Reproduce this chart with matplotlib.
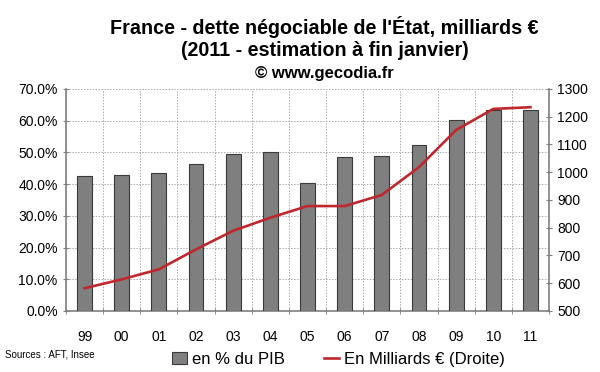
import numpy as np
import matplotlib.pyplot as plt
from matplotlib.ticker import FuncFormatter, MultipleLocator
from matplotlib.patches import Patch
from matplotlib.lines import Line2D

plt.rcParams['font.family'] = ['Liberation Sans', 'DejaVu Sans']

annees = ['99', '00', '01', '02', '03', '04', '05', '06', '07', '08', '09', '10', '11']
pct_pib = [42.6, 42.8, 43.5, 46.3, 49.4, 50.1, 40.4, 48.5, 48.7, 52.3, 60.2, 63.2, 63.3]
milliards = [582, 614, 650, 722, 789, 836, 878, 878, 918, 1018, 1152, 1228, 1234]

fig = plt.figure(figsize=(6, 3.72), dpi=100)
ax = fig.add_axes([0.11, 0.164, 0.805, 0.597])
x = np.arange(len(annees))

ax.bar(x, pct_pib, width=0.4, color='#7f7f7f', edgecolor='#3a3a3a', linewidth=0.8, zorder=3)
ax.set_xlim(-0.5, len(annees) - 0.5)
ax.set_ylim(0, 70)
ax.yaxis.set_major_locator(MultipleLocator(10))
ax.yaxis.set_major_formatter(FuncFormatter(lambda v, p: f'{v:.1f}%'))
ax.set_xticks(x)
ax.set_xticklabels(annees)
ax.set_xticks(np.arange(-0.5, len(annees)), minor=True)
ax.tick_params(axis='x', which='major', length=0, pad=14, labelsize=10)
ax.tick_params(axis='x', which='minor', length=4, direction='inout', color='#808080')
ax.tick_params(axis='y', length=5, direction='inout', color='#808080', labelsize=10)

ax.grid(True, axis='y', linestyle=(0, (1.5, 1.5)), color='#aaaaaa', linewidth=0.7, zorder=0)
ax.grid(True, axis='x', which='minor', linestyle=(0, (1.5, 1.5)), color='#aaaaaa', linewidth=0.7, zorder=0)
for s in ['left', 'bottom', 'right']:
    ax.spines[s].set_color('#808080')
    ax.spines[s].set_linewidth(1.2)
ax.spines['top'].set_visible(False)

ax2 = ax.twinx()
ax2.plot(x, milliards, color='#c0272d', linewidth=1.9, zorder=4)
ax2.set_ylim(500, 1300)
ax2.yaxis.set_major_locator(MultipleLocator(100))
ax2.tick_params(axis='y', length=5, direction='inout', color='#808080', labelsize=10)
for s in ['left', 'bottom', 'right', 'top']:
    ax2.spines[s].set_visible(False)

fig.text(0.541, 0.927, "France - dette négociable de l'État, milliards €", ha='center', va='center',
         fontsize=14.2, fontweight='bold')
fig.text(0.541, 0.864, "(2011 - estimation à fin janvier)", ha='center', va='center',
         fontsize=14.2, fontweight='bold')
fig.text(0.541, 0.802, "© www.gecodia.fr", ha='center', va='center', fontsize=12, fontweight='bold')
fig.text(0.008, 0.046, "Sources : AFT, Insee", ha='left', va='center', fontsize=7)

handles = [Patch(facecolor='#7f7f7f', edgecolor='#3a3a3a', linewidth=0.8),
           Line2D([0], [0], color='#c0272d', linewidth=1.9)]
fig.legend(handles, ['en % du PIB', 'En Milliards € (Droite)'], loc='center',
           bbox_to_anchor=(0.564, 0.034), ncol=2, frameon=False, fontsize=12,
           handlelength=0.9, handletextpad=0.3, columnspacing=2.4)

plt.savefig('out.png', dpi=100)
